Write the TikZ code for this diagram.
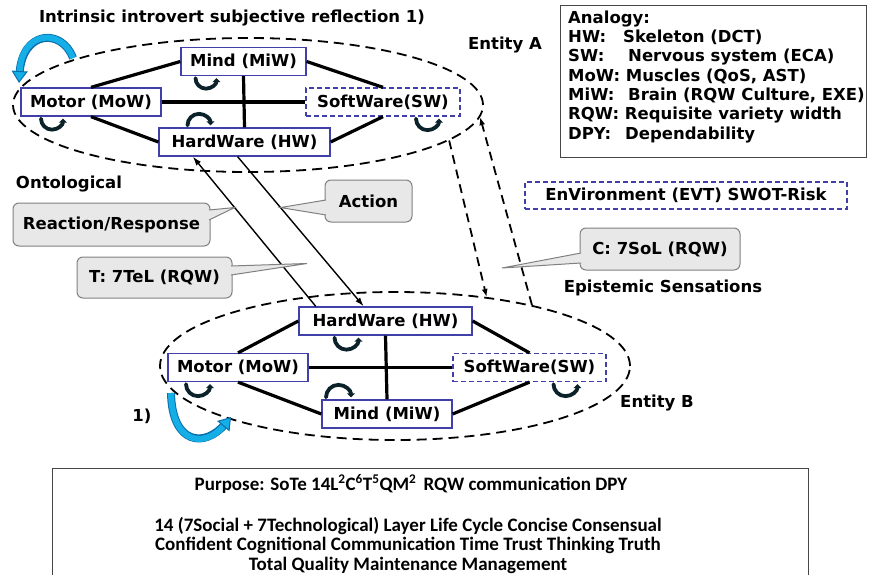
\documentclass[tikz,border=0pt]{standalone}
\usepackage{fontspec}
\setmainfont{DejaVu Sans}
\newfontfamily\carlito{Carlito}
\usepackage{tikz}
\usetikzlibrary{shapes.geometric, arrows.meta, positioning, calc}

\definecolor{partblue}{RGB}{64,64,168}
\definecolor{callfill}{RGB}{232,232,232}
\definecolor{callgray}{RGB}{128,128,128}
\definecolor{turnteal}{RGB}{12,34,42}
\definecolor{swirlfill}{RGB}{20,175,230}
\definecolor{swirlline}{RGB}{10,110,170}
\definecolor{boxgray}{RGB}{70,70,70}

\newcommand{\lbl}{\fontsize{16.5pt}{19.3pt}\selectfont\bfseries}
\newcommand{\purposefont}{\carlito\fontsize{19pt}{19.5pt}\selectfont\bfseries}
% wedge of a callout: base point, tip, base point
\newcommand{\calltail}[3]{\fill[callfill] #1 -- #2 -- #3 -- cycle;
  \draw[callgray, line width=1pt] #1 -- #2 -- #3;}

\tikzset{
  part/.style={rectangle, draw=partblue, line width=1.3pt, fill=white,
    minimum height=28pt, inner sep=0pt, font=\lbl},
  softpart/.style={part, dash pattern=on 5pt off 3pt},
  entity/.style={ellipse, draw=black, line width=1.8pt,
    dash pattern=on 10pt off 6pt, inner sep=0pt},
  tie/.style={line width=3.2pt, black},
  turn/.style={line width=3.8pt, turnteal, line cap=round,
    -{Triangle[length=4pt, width=8pt]}},
  flow/.style={line width=1.4pt, -{Latex[length=9pt, width=6pt]}},
  sense/.style={line width=1.8pt, dash pattern=on 9pt off 6pt,
    -{Latex[length=8pt, width=6pt]}},
  callbox/.style={rectangle, rounded corners=6pt, draw=callgray, line width=1pt,
    fill=callfill, font=\lbl, inner sep=0pt},
  tag/.style={font=\lbl, inner sep=0pt},
  swirl/.style={line width=6pt, swirlfill,
    preaction={draw=swirlline, line width=8pt, -, shorten >=9pt},
    -{Triangle[length=12pt, width=16pt, fill=swirlfill, color=swirlline, line width=1pt]}}
}

\begin{document}
\begin{tikzpicture}[x=1pt, y=1pt]
\useasboundingbox (0,0) rectangle (872,-575);

% the two entities
\node (entityA) [entity, minimum width=470pt, minimum height=134pt] at (248,-105) {};
\node (entityB) [entity, minimum width=470pt, minimum height=148pt] at (395,-366) {};

\node (mindA)  [part,     minimum width=125pt] at (243.5,-61.5) {Mind (MiW)};
\node (motorA) [part,     minimum width=140pt] at (91,-102)     {Motor (MoW)};
\node (softA)  [softpart, minimum width=154pt] at (383,-102)    {SoftWare(SW)};
\node (hardA)  [part,     minimum width=171pt] at (244.5,-142)  {HardWare (HW)};

\node (hardB)  [part,     minimum width=173pt] at (385.5,-321)  {HardWare (HW)};
\node (motorB) [part,     minimum width=140pt] at (238,-367.5)  {Motor (MoW)};
\node (softB)  [softpart, minimum width=153pt] at (529.5,-367.5){SoftWare(SW)};
\node (mindB)  [part,     minimum width=130pt] at (387,-414)    {Mind (MiW)};

\draw [tie] (motorA.north) -- (mindA.west);
\draw [tie] (mindA.east)   -- (softA.north);
\draw [tie] (motorA.east)  -- (softA.west);
\draw [tie] (mindA.south)  -- (hardA.north);
\draw [tie] (motorA.south) -- (hardA.west);
\draw [tie] (hardA.east)   -- (softA.south);

\draw [tie] (motorB.north) -- (hardB.west);
\draw [tie] (hardB.east)   -- (softB.north);
\draw [tie] (motorB.east)  -- (softB.west);
\draw [tie] (hardB.south)  -- (mindB.north);
\draw [tie] (motorB.south) -- (mindB.west);
\draw [tie] (mindB.east)   -- (softB.south);

% small self turns
\draw [turn] ($(mindA.south)+(-48,-2)$)  arc[start angle=180, end angle=360, radius=10.5];
\draw [turn] ($(motorA.south)+(-50,-2)$) arc[start angle=180, end angle=360, radius=11];
\draw [turn] ($(softA.south)+(33,-2)$)   arc[start angle=180, end angle=360, radius=11.5];
\draw [turn] ($(hardA.north)+(-57,2)$)   arc[start angle=180, end angle=0,   radius=11.5];
\draw [turn] ($(hardB.south)+(-51,-2)$)  arc[start angle=180, end angle=360, radius=12];
\draw [turn] ($(motorB.south)+(-52,-2)$) arc[start angle=180, end angle=360, radius=12];
\draw [turn] ($(softB.south)+(24,-2)$)   arc[start angle=180, end angle=360, radius=12];
\draw [turn] ($(mindB.north)+(-61,2)$)   arc[start angle=180, end angle=0,   radius=12.5];

% big reflection arrows
\draw [swirl] (73,-58) .. controls (62,-28) and (22,-30) .. (19,-83);
\draw [swirl] (171,-393) .. controls (172,-445) and (205,-448) .. (231,-417);

% action / reaction between the hardware parts
\draw [flow] ($(hardB.north west)!0.1!(hardB.north east)$)
  -- coordinate[pos=0.66] (reactTip) ($(hardA.south west)!0.2!(hardA.south east)$);
\draw [flow] ($(hardA.south west)!0.46!(hardA.south east)$)
  -- coordinate[pos=0.34] (actTip) ($(hardB.north west)!0.375!(hardB.north east)$);

\draw [sense] (entityA.-10.5) -- (entityB.37);
\draw [sense] (entityB.24)    -- (entityA.-3);

\coordinate (telTip) at (307,-263.5);
\coordinate (solTip) at (502,-268);

\node (actionCall) [callbox, minimum width=87pt,  minimum height=42pt] at (368.5,-201) {Action};
\node (reactCall)  [callbox, minimum width=197pt, minimum height=43pt] at (111.5,-224.5) {Reaction/Response};
\node (telCall)    [callbox, minimum width=155pt, minimum height=41pt] at (154.5,-277.5) {T: 7TeL (RQW)};
\node (solCall)    [callbox, minimum width=160pt, minimum height=42pt] at (660,-249) {C: 7SoL (RQW)};

\calltail{($(actionCall.west)+(1.5,1)$)}{(actTip)}{($(actionCall.west)+(1.5,-14)$)}
\calltail{($(reactCall.east)+(-1.5,14.5)$)}{(reactTip)}{($(reactCall.east)+(-1.5,4.5)$)}
\calltail{($(telCall.east)+(-1.5,11.5)$)}{(telTip)}{($(telCall.east)+(-1.5,2.5)$)}
\calltail{($(solCall.west)+(1.5,-4)$)}{(solTip)}{($(solCall.west)+(1.5,-14)$)}

\node (envBox) [softpart, minimum width=322pt, minimum height=27pt] at (686,-195.5)
  {EnVironment (EVT) SWOT-Risk};

% labels
\node (titleA)    [tag] at (232,-18)  {Intrinsic introvert subjective reflection 1)};
\node (entALabel) [tag] at (505,-45)  {Entity A};
\node (ontoLabel) [tag] at (69,-184)  {Ontological};
\node (episLabel) [tag] at (663,-288) {Epistemic Sensations};
\node (entBLabel) [tag] at (657,-403) {Entity B};
\node (oneLabel)  [tag] at (142,-416) {1)};

% analogy legend
\node (analogyBox) [draw=boxgray, line width=1pt, minimum width=306pt, minimum height=152pt,
  anchor=north west, inner sep=0pt] at (560,-5) {};
\node (analogyText) [tag, anchor=north west, align=left] at (568,-10.5)
  {Analogy:\\
   \makebox[55pt][l]{HW:}Skeleton (DCT)\\
   \makebox[60pt][l]{SW:}Nervous system (ECA)\\
   MoW: Muscles (QoS, AST)\\
   \makebox[60pt][l]{MiW:}Brain (RQW Culture, EXE)\\
   RQW: Requisite variety width\\
   \makebox[57pt][l]{DPY:}Dependability};

% purpose
\node (purposeBox) [draw=boxgray, line width=1pt, minimum width=756pt, minimum height=130pt,
  anchor=north west, inner sep=0pt] at (52,-468) {};
\node (purposeLine) [font=\purposefont, inner sep=0pt] at (411,-484)
  {Purpose: SoTe 14L\textsuperscript{2}C\textsuperscript{6}T\textsuperscript{5}QM\textsuperscript{2}\hspace{0.15em} RQW communication DPY};
\node (purposeText) [font=\purposefont, align=center, inner sep=0pt] at (408,-545.5)
  {14 (7Social + 7Technological) Layer Life Cycle Concise Consensual\\
   Confident Cognitional Communication Time Trust Thinking Truth\\
   Total Quality Maintenance Management};
\end{tikzpicture}
\end{document}
